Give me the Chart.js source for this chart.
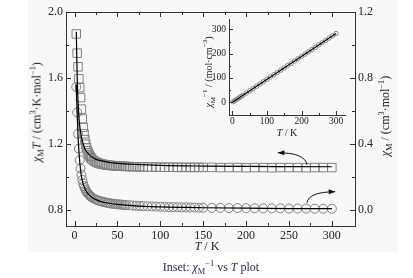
<!DOCTYPE html>
<html>
<head>
<meta charset="utf-8">
<script src="https://cdn.jsdelivr.net/npm/chart.js@4/dist/chart.umd.min.js"></script>
<style>
  body { margin: 0; background: #fff; }
  #wrap { position: relative; width: 413px; height: 278px; font-family: "Liberation Serif", "DejaVu Serif", serif; color: #222; }
  #bg { position: absolute; left: 28px; top: 0; width: 370px; height: 252px; background: #f8f8f8; }
  canvas { position: absolute; }
  .t { position: absolute; white-space: nowrap; transform: translate(-50%, -50%); font-size: 12px; }
  .rot { transform: translate(-50%, -50%) rotate(-90deg); }
  sub, sup { font-size: 70%; line-height: 0; }
</style>
</head>
<body>
<div id="wrap">
  <div id="bg"></div>
  <canvas id="mainChart" width="413" height="278" style="left:0;top:0"></canvas>
  <canvas id="insetChart" width="155" height="132" style="left:195px;top:8px"></canvas>
  <div class="t rot" style="left:37px;top:112px"><i>χ</i><sub>M</sub><i>T</i> / (cm<sup>3</sup>·K·mol<sup>−1</sup>)</div>
  <div class="t rot" style="left:385px;top:116px"><i>χ</i><sub>M</sub> / (cm<sup>3</sup>·mol<sup>−1</sup>)</div>
  <div class="t" style="left:207px;top:246px"><i>T</i> / K</div>
  <div class="t" style="left:211px;top:267px;color:#2e2a5c">Inset: <i>χ</i><sub>M</sub><sup>−1</sup> vs <i>T</i> plot</div>
  <div class="t rot" style="left:208px;top:72px;font-size:10px"><i>χ</i><sub>M</sub><sup>−1</sup> / (mol·cm<sup>−3</sup>)</div>
  <div class="t" style="left:287px;top:132px;font-size:10px"><i>T</i> / K</div>
</div>
<script>
// measured points (T in K)
var temps = [2,3,4,5,6,7,8,9,10,11,12,13,14,15,16,17,18,19,20,
  22,24,26,28,30,32,34,36,38,40,42,44,46,48,50,52,54,56,58,60,
  64,68,72,76,80,85,90,95,100,105,110,115,120,125,130,135,140,145,150,
  160,170,180,190,200,210,220,230,240,250,260,270,280,290,300];
var chiMT = [1.867,1.75,1.667,1.594,1.54,1.48,1.41,1.35,1.30,1.26,1.225,1.197,1.175,1.157,1.143,1.132,1.123,1.115,1.108,
  1.098,1.091,1.086,1.082,1.078,1.076,1.074,1.072,1.070,1.069,1.068,1.067,1.066,1.065,1.064,1.064,1.063,1.063,1.062,1.062,
  1.061,1.060,1.060,1.059,1.059,1.058,1.058,1.058,1.057,1.057,1.057,1.057,1.056,1.056,1.056,1.056,1.056,1.056,1.056,
  1.056,1.055,1.055,1.055,1.054,1.055,1.055,1.054,1.055,1.055,1.055,1.054,1.055,1.055,1.055];
var chiM = [0.745,0.59,0.46,0.37,0.30,0.25,0.21,0.18,0.158,0.142,0.129,0.118,0.109,0.101,0.094,0.088,0.083,0.078,0.074,
  0.068,0.063,0.058,0.054,0.051,0.048,0.046,0.043,0.041,0.039,0.037,0.036,0.034,0.033,0.032,0.031,0.030,0.029,0.028,0.027,
  0.026,0.024,0.023,0.022,0.021,0.020,0.019,0.018,0.017,0.016,0.015,0.015,0.014,0.013,0.013,0.012,0.012,0.011,0.011,
  0.010,0.010,0.009,0.009,0.008,0.008,0.007,0.007,0.007,0.006,0.006,0.006,0.005,0.005,0.005];

// fitted curves
var fitT = [2,3,4,5,6,7,8,10,12,15,20,25,30,40,50,70,100,150,200,250,300];
var fitChiMT = [1.88,1.62,1.46,1.37,1.31,1.27,1.24,1.20,1.17,1.145,1.12,1.105,1.097,1.087,1.081,1.074,1.068,1.064,1.062,1.061,1.06];
var fitChiM = [0.76,0.58,0.45,0.36,0.29,0.24,0.20,0.155,0.128,0.10,0.075,0.06,0.05,0.038,0.031,0.022,0.016,0.011,0.008,0.006,0.005];

// inset: 1/chiM vs T
var insetT = [2,5,10,15,20,25,30,40,50,60,70,80,90,100,110,120,130,140,150,160,170,180,190,200,210,220,230,240,250,260,270,280,290,300];
var insetChiInv = [1.6,4.4,9.1,13.8,18.6,23.3,28.0,37.5,46.9,56.4,65.8,75.3,84.7,94.2,103.6,113.1,122.5,132.0,141.4,150.9,160.3,169.8,179.2,188.7,198.1,207.6,217.0,226.5,235.9,245.4,254.8,264.3,273.7,283.2];
var insetFitT = [0, 300];
var insetFitChiInv = [-0.3, 283.5];

// ticks
var xTicks = [0,50,100,150,200,250,300];
var xMinor = [25,75,125,175,225,275];
var yTicks = [0.8,1.2,1.6,2.0];
var yMinor = [1.0,1.4,1.8];
var y2Ticks = [0.0,0.4,0.8,1.2];
var y2Minor = [0.2,0.6,1.0];
var insetXTicks = [0,100,200,300];
var insetXMinor = [50,150,250];
var insetYTicks = [0,100,200,300];
var insetYMinor = [50,150,250];

function pts(xs, ys) {
    return xs.map(function (v, i) { return { x: v, y: ys[i] }; });
}
function fixTicks(list) {
    return function (s) { s.ticks = list.map(function (v) { return { value: v }; }); };
}

var axisColor = '#333';
var tickFont = { family: 'Liberation Serif', size: 12 };

// inward tick marks on the frame
var insideTicks = {
    id: 'insideTicks',
    afterDraw: function (chart, args, opts) {
        var ctx = chart.ctx, a = chart.chartArea;
        ctx.save();
        ctx.strokeStyle = axisColor;
        ctx.lineWidth = 1;
        if (opts.topBorder) {
            ctx.beginPath();
            ctx.moveTo(a.left, a.top + 0.5);
            ctx.lineTo(a.right, a.top + 0.5);
            ctx.stroke();
        }
        (opts.marks || []).forEach(function (m) {
            var s = chart.scales[m.scale];
            m.values.forEach(function (v) {
                var p = Math.round(s.getPixelForValue(v)) + 0.5;
                ctx.beginPath();
                if (m.side === 'bottom') { ctx.moveTo(p, a.bottom); ctx.lineTo(p, a.bottom - m.len); }
                if (m.side === 'top') { ctx.moveTo(p, a.top); ctx.lineTo(p, a.top + m.len); }
                if (m.side === 'left') { ctx.moveTo(a.left, p); ctx.lineTo(a.left + m.len, p); }
                if (m.side === 'right') { ctx.moveTo(a.right, p); ctx.lineTo(a.right - m.len, p); }
                ctx.stroke();
            });
        });
        ctx.restore();
    }
};

// curved arrows telling which axis each series uses
var arrows = {
    id: 'arrows',
    afterDatasetsDraw: function (chart) {
        var ctx = chart.ctx, x = chart.scales.x, y = chart.scales.y, y2 = chart.scales.y2;
        function arrow(x0, y0, cx, cy, x1, y1) {
            ctx.beginPath();
            ctx.moveTo(x0, y0);
            ctx.quadraticCurveTo(cx, cy, x1, y1);
            ctx.stroke();
            var ang = Math.atan2(y1 - cy, x1 - cx);
            ctx.beginPath();
            ctx.moveTo(x1, y1);
            ctx.lineTo(x1 - 7 * Math.cos(ang - 0.35), y1 - 7 * Math.sin(ang - 0.35));
            ctx.lineTo(x1 - 7 * Math.cos(ang + 0.35), y1 - 7 * Math.sin(ang + 0.35));
            ctx.closePath();
            ctx.fill();
        }
        ctx.save();
        ctx.strokeStyle = '#111';
        ctx.fillStyle = '#111';
        ctx.lineWidth = 1;
        // squares -> left axis
        var sx = x.getPixelForValue(271), sy = y.getPixelForValue(1.072);
        var ex = x.getPixelForValue(237), ey = y.getPixelForValue(1.145);
        arrow(sx, sy, sx - 2, ey, ex, ey);
        // circles -> right axis
        sx = x.getPixelForValue(271); sy = y2.getPixelForValue(0.042);
        ex = x.getPixelForValue(304); ey = y2.getPixelForValue(0.108);
        arrow(sx, sy, sx + 2, ey, ex, ey);
        ctx.restore();
    }
};

var mainChart = new Chart(document.getElementById('mainChart').getContext('2d'), {
    type: 'scatter',
    data: {
        datasets: [{
            label: 'fit chiMT',
            data: pts(fitT, fitChiMT),
            yAxisID: 'y',
            showLine: true,
            borderColor: '#000',
            borderWidth: 1.2,
            pointRadius: 0,
            cubicInterpolationMode: 'monotone',
            order: 0
        }, {
            label: 'fit chiM',
            data: pts(fitT, fitChiM),
            yAxisID: 'y2',
            showLine: true,
            borderColor: '#000',
            borderWidth: 1.2,
            pointRadius: 0,
            cubicInterpolationMode: 'monotone',
            order: 0
        }, {
            label: 'chiMT',
            data: pts(temps, chiMT),
            yAxisID: 'y',
            pointStyle: 'rect',
            pointRadius: 6,
            pointBorderWidth: 1,
            pointBorderColor: '#808080',
            pointBackgroundColor: 'rgba(255,255,255,0)',
            order: 1
        }, {
            label: 'chiM',
            data: pts(temps, chiM),
            yAxisID: 'y2',
            pointStyle: 'circle',
            pointRadius: 4.5,
            pointBorderWidth: 1,
            pointBorderColor: '#808080',
            pointBackgroundColor: 'rgba(255,255,255,0)',
            order: 1
        }]
    },
    options: {
        responsive: false,
        animation: false,
        layout: { padding: { top: 12 } },
        scales: {
            x: {
                type: 'linear', min: -10, max: 327,
                afterBuildTicks: fixTicks(xTicks),
                afterFit: function (s) { s.height = 52; },
                grid: { display: false, drawTicks: false },
                border: { display: true, color: axisColor, width: 1 },
                ticks: { font: tickFont, color: '#222', padding: 3 }
            },
            y: {
                position: 'left', min: 0.7, max: 2.0,
                afterBuildTicks: fixTicks(yTicks),
                afterFit: function (s) { s.width = 66; },
                grid: { display: false, drawTicks: false },
                border: { display: true, color: axisColor, width: 1 },
                ticks: { font: tickFont, color: '#222', padding: 3, callback: function (v) { return v.toFixed(1); } }
            },
            y2: {
                position: 'right', min: -0.1, max: 1.2,
                afterBuildTicks: fixTicks(y2Ticks),
                afterFit: function (s) { s.width = 58; },
                grid: { display: false, drawTicks: false },
                border: { display: true, color: axisColor, width: 1 },
                ticks: { font: tickFont, color: '#222', padding: 3, callback: function (v) { return v.toFixed(1); } }
            }
        },
        plugins: {
            legend: { display: false },
            tooltip: { enabled: false },
            insideTicks: {
                topBorder: true,
                marks: [
                    { scale: 'x', side: 'bottom', values: xTicks, len: 5 },
                    { scale: 'x', side: 'bottom', values: xMinor, len: 3 },
                    { scale: 'x', side: 'top', values: xTicks, len: 5 },
                    { scale: 'x', side: 'top', values: xMinor, len: 3 },
                    { scale: 'y', side: 'left', values: yTicks, len: 5 },
                    { scale: 'y', side: 'left', values: yMinor, len: 3 },
                    { scale: 'y2', side: 'right', values: y2Ticks, len: 5 },
                    { scale: 'y2', side: 'right', values: y2Minor, len: 3 }
                ]
            }
        }
    },
    plugins: [insideTicks, arrows]
});

var insetFont = { family: 'Liberation Serif', size: 9.5 };
var insetChart = new Chart(document.getElementById('insetChart').getContext('2d'), {
    type: 'scatter',
    data: {
        datasets: [{
            data: pts(insetFitT, insetFitChiInv),
            showLine: true,
            borderColor: '#000',
            borderWidth: 1.2,
            pointRadius: 0,
            order: 0
        }, {
            data: pts(insetT, insetChiInv),
            pointRadius: 2.2,
            pointBorderWidth: 1,
            pointBorderColor: '#8a8a8a',
            pointBackgroundColor: 'rgba(255,255,255,0)',
            order: 1
        }]
    },
    options: {
        responsive: false,
        animation: false,
        layout: { padding: { top: 11, right: 5 } },
        scales: {
            x: {
                type: 'linear', min: -10, max: 326,
                afterBuildTicks: fixTicks(insetXTicks),
                afterFit: function (s) { s.height = 25; },
                grid: { display: false, drawTicks: false },
                border: { display: true, color: axisColor, width: 1 },
                ticks: { font: insetFont, color: '#222', padding: 1 }
            },
            y: {
                min: -53, max: 343,
                afterBuildTicks: fixTicks(insetYTicks),
                afterFit: function (s) { s.width = 34; },
                grid: { display: false, drawTicks: false },
                border: { display: true, color: axisColor, width: 1 },
                ticks: { font: insetFont, color: '#222', padding: 3 }
            }
        },
        plugins: {
            legend: { display: false },
            tooltip: { enabled: false },
            insideTicks: {
                marks: [
                    { scale: 'x', side: 'bottom', values: insetXTicks, len: 4 },
                    { scale: 'x', side: 'bottom', values: insetXMinor, len: 2 },
                    { scale: 'y', side: 'left', values: insetYTicks, len: 4 },
                    { scale: 'y', side: 'left', values: insetYMinor, len: 2 }
                ]
            }
        }
    },
    plugins: [insideTicks]
});
</script>
</body>
</html>
